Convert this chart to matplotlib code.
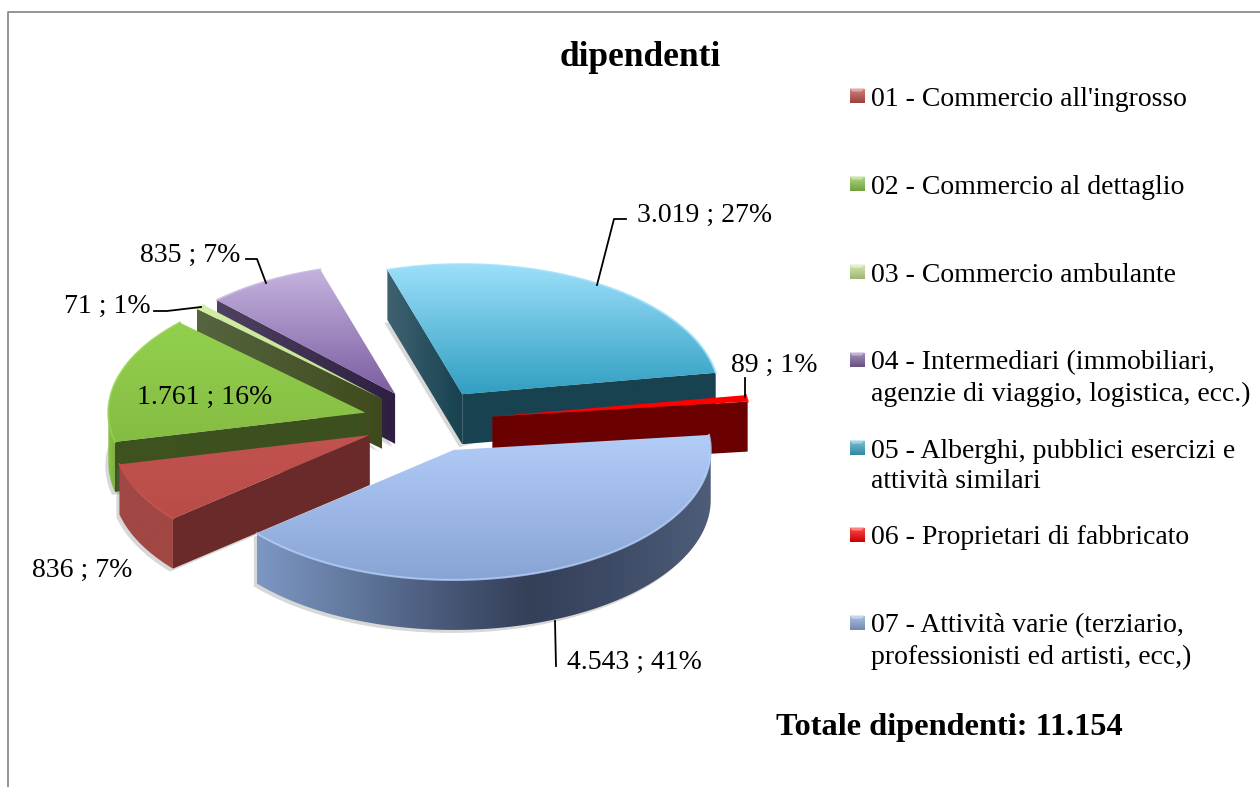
import matplotlib
matplotlib.use("Agg")
import matplotlib.pyplot as plt
from matplotlib.patches import Polygon
import numpy as np

# --- data ---
categorie = ["01 - Commercio all'ingrosso",
             "02 - Commercio al dettaglio",
             "03 - Commercio ambulante",
             "04 - Intermediari (immobiliari,\nagenzie di viaggio, logistica, ecc.)",
             "05 - Alberghi, pubblici esercizi e\nattività similari",
             "06 - Proprietari di fabbricato",
             "07 - Attività varie (terziario,\nprofessionisti ed artisti, ecc,)"]
dipendenti = [836, 1761, 71, 835, 3019, 89, 4543]

# colours: top face light/dark, cut face far/near, outer wall left to right
col_top = [("#c2524f", "#b94c49"), ("#93d04f", "#85bd42"), ("#d2eda6", "#c4e290"),
           ("#c4b3de", "#7c5da1"), ("#9cdffa", "#329fc3"), ("#ff0000", "#ff0000"),
           ("#b3cdf9", "#88a4d4")]
col_cut = [("#6b2a2a", "#6b2a2a"), ("#3e5320", "#3c4f1f"), ("#566540", "#3f4a1c"),
           ("#4f4260", "#2e1f42"), ("#3f6271", "#184250"), ("#6b0000", "#6b0000"),
           ("#33415a", "#33415a")]
col_wall = [("#a14744", "#a14744"), ("#8ac24a", "#7db040"), ("#6f8a40", "#6f8a40"),
            ("#5c4a78", "#5c4a78"), ("#1f5566", "#1f5566"), ("#6b0000", "#6b0000"),
            ("#7c97c4", "#637a9f", "#4a5a7a", "#343f58", "#3f4c67", "#4d5d78")]
legenda_col = ["#c0504d", "#8ec74c", "#c4e290", "#8064a2", "#3fa9c9", "#ff0000", "#8eaad8"]

# --- pie geometry (pixels of the original picture) ---
CX, CY = 428, 421
RX, RY = 257, 130
DEPTH = 50
EXPLODE_X, EXPLODE_Y = 65, 31.5
START = 220  # where slice 01 starts, going clockwise

plt.rcParams["font.family"] = ["Liberation Serif", "DejaVu Serif"]
fig = plt.figure(figsize=(12.6, 7.87), dpi=100)
ax = fig.add_axes([0, 0, 1, 1])
ax.set_xlim(0, 1260)
ax.set_ylim(787, 0)
ax.axis("off")


def gradient(pts, colori, vertical=True, z=2):
    # fills a polygon with a linear gradient, through a clipped image
    pts = np.asarray(pts)
    x0, y0 = pts.min(axis=0)
    x1, y1 = pts.max(axis=0)
    rgb = np.array([matplotlib.colors.to_rgb(c) for c in colori])
    t = np.linspace(0, 1, 128)
    stops = np.linspace(0, 1, len(colori))
    img = np.column_stack([np.interp(t, stops, rgb[:, k]) for k in range(3)])
    img = img[:, None, :] if vertical else img[None, :, :]
    im = ax.imshow(img, extent=(x0, x1, y1, y0), aspect="auto", zorder=z,
                   interpolation="bilinear")
    clip = Polygon(pts, closed=True, transform=ax.transData, fc="none", ec="none")
    ax.add_patch(clip)
    im.set_clip_path(clip)


def ellipse(cx, cy, ang):
    a = np.radians(ang)
    return np.column_stack([cx + RX * np.cos(a), cy - RY * np.sin(a)])


def shadow(pts, z):
    ax.add_patch(Polygon(np.asarray(pts) + [-3, 3], closed=True, fc="#666666", ec="none",
                         alpha=0.25, zorder=z))


totale = sum(dipendenti)
angoli = START - np.cumsum([0] + [v / totale * 360 for v in dipendenti])
ordine = [4, 3, 2, 1, 5, 0, 6]  # back to front
z = 2
for i in ordine:
    a2, a1 = angoli[i], angoli[i + 1]
    mid = np.radians((a1 + a2) / 2)
    cx = CX + EXPLODE_X * np.cos(mid)
    cy = CY - EXPLODE_Y * np.sin(mid)
    apice = np.array([cx, cy])
    down = np.array([0, DEPTH])
    arco = ellipse(cx, cy, np.linspace(a1, a2, 80))
    top = np.vstack([apice, arco])

    # shadow under the whole slice
    shadow(np.vstack([apice + down, arco[0], arco + down, arco[-1] + down]), z)
    z += 1

    # cut faces, only the ones looking at the viewer
    if np.cos(np.radians(a1)) > 0:
        p = arco[0]
        gradient([p, apice, apice + down, p + down], [col_cut[i][1]] * 2, z=z)
        z += 1
    if np.cos(np.radians(a2)) < 0:
        p = arco[-1]
        gradient([p, apice, apice + down, p + down], col_cut[i], vertical=False, z=z)
        z += 1

    # outer wall, lower half of the ellipse only
    giri = np.linspace(a1, a2, 200)
    giri = giri[np.sin(np.radians(giri)) <= 0]
    if len(giri) > 1:
        bordo = ellipse(cx, cy, giri)
        gradient(np.vstack([bordo, (bordo + down)[::-1]]), col_wall[i], vertical=False, z=z)
        z += 1

    gradient(top, col_top[i], z=z)
    z += 1
    ax.plot(arco[:, 0], arco[:, 1], color=col_top[i][0], lw=1.5, zorder=z, alpha=0.8)
    z += 1


# --- labels ---
def etichetta(v):
    return f"{v:,}".replace(",", ".") + f" ; {round(v / totale * 100)}%"


FS = 20
pos = [(32, 570), (137, 397), (64, 306), (140, 255), (637, 215), (731, 365), (567, 662)]
for v, (x, y) in zip(dipendenti, pos):
    ax.text(x, y, etichetta(v), fontsize=FS, va="center", ha="left", color="black", zorder=z + 1)

leader = [[(626, 219), (614, 219), (597, 285)],
          [(745, 378), (745, 397)],
          [(246, 259), (257, 259), (266, 283)],
          [(154, 311), (167, 311), (201, 307)],
          [(556, 666), (555, 621)]]
for seg in leader:
    xs, ys = zip(*seg)
    ax.plot(xs, ys, color="black", lw=1.3, zorder=z + 1)

ax.text(640, 57, "dipendenti", fontsize=25.5, fontweight="bold", ha="center", va="center")

leg_y = [96, 184, 272, 360, 448, 535, 623]
for nome, c, y in zip(categorie, legenda_col, leg_y):
    s = 7.5
    base = np.array(matplotlib.colors.to_rgb(c))
    gradient([(857 - s, y - s), (857 + s, y - s), (857 + s, y + s), (857 - s, y + s)],
             [base * 0.7 + 0.3, base * 0.8], z=z)
    ax.add_patch(Polygon([(857 - s, y - s), (857 + s, y - s), (857 + s - 3, y - s + 3), (857 - s + 3, y - s + 3)],
                         fc=base * 0.5 + 0.5, ec="none", zorder=z + 1))
    ax.text(871, y + 3, nome.split("\n")[0], fontsize=FS, va="center", ha="left")
    if "\n" in nome:
        ax.text(871, y + 34, nome.split("\n")[1], fontsize=FS, va="center", ha="left")

ax.text(776, 727, "Totale dipendenti: " + f"{totale:,}".replace(",", "."), fontsize=23.3,
        fontweight="bold", va="center", ha="left")

# chart border, only top and left are inside the picture
ax.plot([8, 8, 1260], [787, 12, 12], color="#8c8c8c", lw=1.3)

ax.set_xlim(0, 1260)
ax.set_ylim(787, 0)
fig.savefig("out.png", dpi=100)
